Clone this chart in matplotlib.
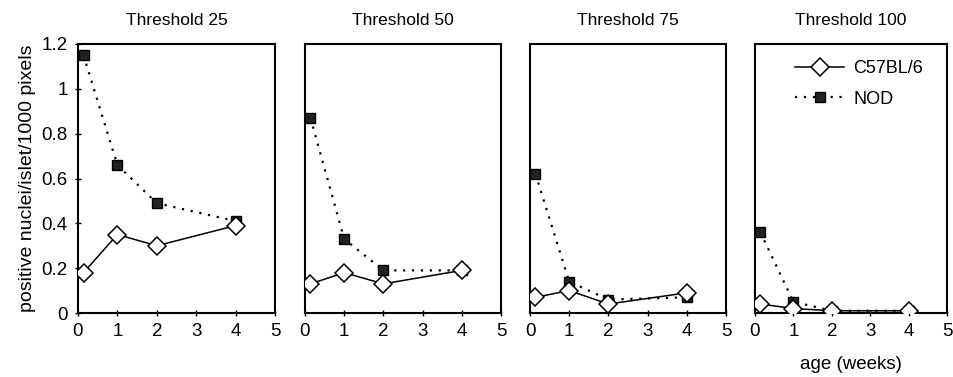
import numpy as np
import matplotlib.pyplot as plt

plt.rcParams['font.family'] = ['Liberation Sans', 'DejaVu Sans']

ages = [0.14, 1, 2, 4]
titles = ['Threshold 25', 'Threshold 50', 'Threshold 75', 'Threshold 100']
c57 = [
    [0.18, 0.35, 0.30, 0.39],
    [0.13, 0.18, 0.13, 0.19],
    [0.07, 0.10, 0.04, 0.09],
    [0.04, 0.02, 0.01, 0.01],
]
nod = [
    [1.15, 0.66, 0.49, 0.41],
    [0.87, 0.33, 0.19, 0.19],
    [0.62, 0.14, 0.06, 0.07],
    [0.36, 0.05, 0.01, 0.01],
]

fig = plt.figure(figsize=(9.54, 3.77), dpi=100)
lefts = [78, 305, 530, 755]
widths = [197, 196, 196, 192]
W, H = 954, 377
top, bottom = 44, 313

axes = []
for i in range(4):
    ax = fig.add_axes([lefts[i] / W, 1 - bottom / H, widths[i] / W, (bottom - top) / H])
    axes.append(ax)
    ax.plot(ages, nod[i], linestyle=(0, (1, 3)), color='black', lw=1.6,
            marker='s', markersize=7.5, markerfacecolor='#222222',
            markeredgecolor='black', label='NOD', zorder=2)
    ax.plot(ages, c57[i], linestyle='-', color='black', lw=1.1,
            marker='D', markersize=9.5, markerfacecolor='white',
            markeredgecolor='black', markeredgewidth=1.1, label='C57BL/6', zorder=3)
    ax.set_xlim(0, 5)
    ax.set_ylim(0, 1.2)
    ax.set_xticks(range(6))
    ax.set_yticks([0, 0.2, 0.4, 0.6, 0.8, 1, 1.2])
    ax.set_title(titles[i], fontsize=12.5, pad=14)
    ax.tick_params(axis='both', direction='inout', length=5, width=1, labelsize=13.5, pad=5)
    for s in ax.spines.values():
        s.set_linewidth(1.5)
    if i == 0:
        ax.set_yticklabels(['0', '0.2', '0.4', '0.6', '0.8', '1', '1.2'])
        ax.set_ylabel('positive nuclei/islet/1000 pixels', fontsize=14, labelpad=4)
    else:
        ax.set_yticklabels([])
        ax.tick_params(axis='y', length=0)

ax = axes[3]
ax.set_xlabel('age (weeks)', fontsize=13.5, labelpad=11)
h, l = ax.get_legend_handles_labels()
ax.legend(h[::-1], l[::-1], loc='upper right', bbox_to_anchor=(0.96, 1.0),
          frameon=False, fontsize=13, handlelength=2.7, borderaxespad=0.5,
          handletextpad=0.5, labelspacing=0.75)

fig.savefig('out.png', dpi=100)
